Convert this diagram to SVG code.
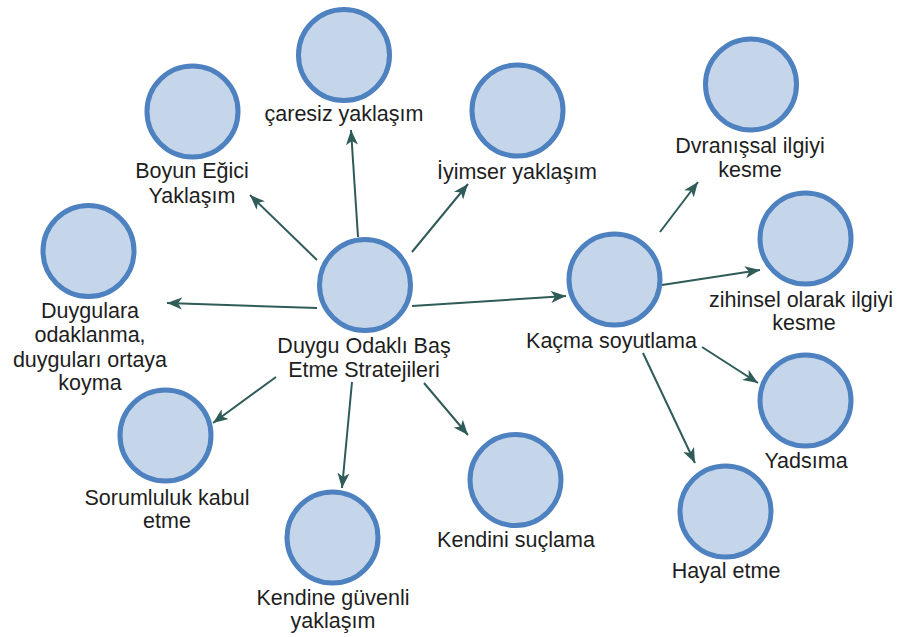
<svg xmlns="http://www.w3.org/2000/svg" width="905" height="637" viewBox="0 0 905 637">
<defs>
<style>
.n{fill:#c5d6ea;stroke:#4e81bf;stroke-width:5}
.t{font-family:"Liberation Sans",Arial,sans-serif;font-size:21.5px;fill:#1e1e1e;text-anchor:middle}
.e{stroke:#2f5b58;stroke-width:2;fill:none;marker-end:url(#ah)}
</style>
<marker id="ah" markerUnits="userSpaceOnUse" markerWidth="16" markerHeight="14" refX="15" refY="7" orient="auto">
<path d="M0,1 L15,7 L0,13 L4,7 Z" fill="#2f5b58"/>
</marker>
</defs>
<rect width="905" height="637" fill="#ffffff"/>
<g id="connectors">
<line class="e" x1="358" y1="237" x2="351" y2="130"/>
<line class="e" x1="412" y1="252" x2="468" y2="184"/>
<line class="e" x1="317" y1="260" x2="250" y2="195"/>
<line class="e" x1="317" y1="308" x2="167" y2="303"/>
<line class="e" x1="276" y1="377" x2="213" y2="423"/>
<line class="e" x1="352" y1="382" x2="342" y2="488"/>
<line class="e" x1="424" y1="383" x2="468" y2="435"/>
<line class="e" x1="412" y1="306" x2="566" y2="296"/>
<line class="e" x1="660" y1="232" x2="698" y2="182"/>
<line class="e" x1="662" y1="285" x2="760" y2="270"/>
<line class="e" x1="702" y1="347" x2="758" y2="383"/>
<line class="e" x1="643" y1="353" x2="695" y2="463"/>
</g>
<g id="center">
<circle class="n" cx="365" cy="285" r="45.5"/>
<text class="t" x="364" y="353">Duygu Odaklı Baş</text>
<text class="t" x="364" y="377">Etme Stratejileri</text>
</g>
<g id="caresiz">
<circle class="n" cx="344" cy="55" r="45.5"/>
<text class="t" x="344" y="121">çaresiz yaklaşım</text>
</g>
<g id="iyimser">
<circle class="n" cx="517.5" cy="110.5" r="45.5"/>
<text class="t" x="517" y="179">İyimser yaklaşım</text>
</g>
<g id="boyun">
<circle class="n" cx="192.5" cy="111.5" r="45.5"/>
<text class="t" x="192" y="178">Boyun Eğici</text>
<text class="t" x="192" y="203">Yaklaşım</text>
</g>
<g id="duygulara">
<circle class="n" cx="88.5" cy="251" r="45.5"/>
<text class="t" x="90" y="318">Duygulara</text>
<text class="t" x="90" y="342">odaklanma,</text>
<text class="t" x="90" y="367">duyguları ortaya</text>
<text class="t" x="90" y="390">koyma</text>
</g>
<g id="sorumluluk">
<circle class="n" cx="165.5" cy="435.5" r="45.5"/>
<text class="t" x="167" y="505">Sorumluluk kabul</text>
<text class="t" x="167" y="528">etme</text>
</g>
<g id="kendine">
<circle class="n" cx="332.5" cy="537.5" r="45.5"/>
<text class="t" x="333" y="605">Kendine güvenli</text>
<text class="t" x="333" y="628">yaklaşım</text>
</g>
<g id="kendini">
<circle class="n" cx="515.5" cy="480" r="45.5"/>
<text class="t" x="516" y="547">Kendini suçlama</text>
</g>
<g id="kacma">
<circle class="n" cx="614.5" cy="279.5" r="45.5"/>
<text class="t" x="611.5" y="348">Kaçma soyutlama</text>
</g>
<g id="dvranissal">
<circle class="n" cx="751" cy="84.5" r="45.5"/>
<text class="t" x="750" y="153">Dvranışsal ilgiyi</text>
<text class="t" x="750" y="177">kesme</text>
</g>
<g id="zihinsel">
<circle class="n" cx="805.5" cy="238.5" r="45.5"/>
<text class="t" x="801" y="307">zihinsel olarak ilgiyi</text>
<text class="t" x="804" y="330">kesme</text>
</g>
<g id="yadsima">
<circle class="n" cx="805.5" cy="400.5" r="45.5"/>
<text class="t" x="806" y="468">Yadsıma</text>
</g>
<g id="hayal">
<circle class="n" cx="725.5" cy="511.5" r="45.5"/>
<text class="t" x="726" y="578">Hayal etme</text>
</g>
</svg>
